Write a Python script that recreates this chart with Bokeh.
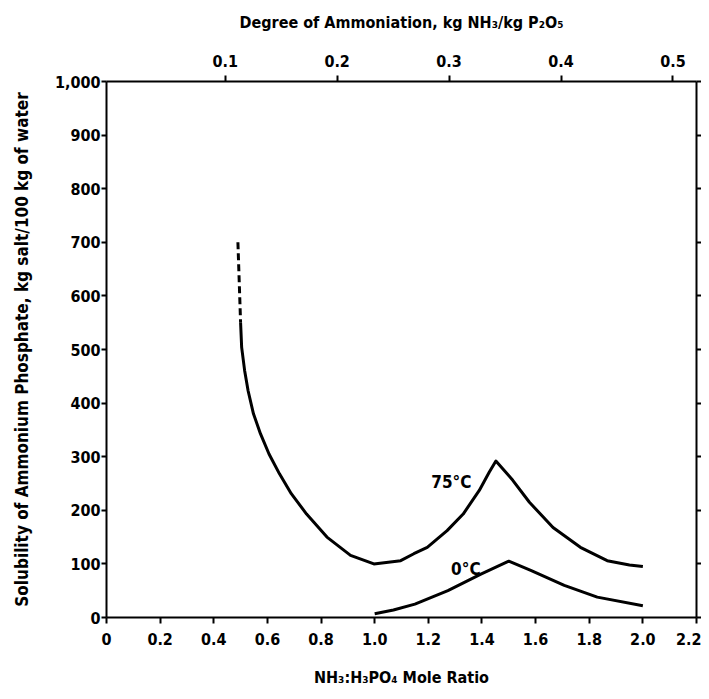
from bokeh.plotting import figure
from bokeh.models import Range1d, LinearAxis, FixedTicker
from bokeh.core.properties import value
from bokeh.embed import file_html
from bokeh.resources import INLINE

# ---- data ----
mole_ticks = [0, 0.2, 0.4, 0.6, 0.8, 1.0, 1.2, 1.4, 1.6, 1.8, 2.0, 2.2]
mole_labels = ["0", "0.2", "0.4", "0.6", "0.8", "1.0", "1.2", "1.4", "1.6", "1.8", "2.0", "2.2"]
sol_ticks = [0, 100, 200, 300, 400, 500, 600, 700, 800, 900, 1000]
sol_labels = ["0", "100", "200", "300", "400", "500", "600", "700", "800", "900", "1,000"]
deg_ticks = [0.1, 0.2, 0.3, 0.4, 0.5]
deg_labels = ["0.1", "0.2", "0.3", "0.4", "0.5"]
deg_start = -0.006  # degree of ammoniation at left edge of the frame
deg_end = 0.521     # degree of ammoniation at right edge of the frame

t75_dash_x = [0.49, 0.50]
t75_dash_y = [700, 550]
t75_x = [0.50, 0.504, 0.515, 0.528, 0.548, 0.574, 0.606, 0.645, 0.689, 0.746,
         0.822, 0.91, 0.997, 1.097, 1.146, 1.196, 1.27, 1.33, 1.39, 1.427,
         1.452, 1.515, 1.577, 1.665, 1.767, 1.867, 1.95, 2.0]
t75_y = [550, 504, 461, 423, 380, 343, 305, 268, 231, 193,
         150, 116, 100, 106, 119, 131, 162, 193, 237, 271,
         292, 256, 215, 168, 131, 106, 98, 95]
t0_x = [1.0, 1.07, 1.15, 1.273, 1.396, 1.50, 1.582, 1.707, 1.83, 2.0]
t0_y = [7, 14, 25, 50, 81, 105, 88, 60, 38, 22]
curve_labels = ["75\u00b0C", "0\u00b0C"]
label_x = [1.286, 1.34]
label_y = [252, 91]

FONT = "DejaVu Sans Condensed, Roboto"

p = figure(width=701, height=690, output_backend="svg", toolbar_location=None,
           x_range=Range1d(0, 2.2), y_range=Range1d(0, 1000),
           min_border_left=106, min_border_top=81, min_border_right=0,
           min_border_bottom=73)
p.xgrid.visible = False
p.ygrid.visible = False
p.outline_line_color = None
p.xaxis.visible = False
p.yaxis.visible = False

p.extra_x_ranges = {"deg": Range1d(deg_start, deg_end)}


def style(ax, ticks, labels):
    ax.ticker = FixedTicker(ticks=ticks)
    ax.major_label_overrides = {t: l for t, l in zip(ticks, labels)}
    ax.axis_line_width = 2
    ax.axis_line_color = "black"
    ax.major_tick_line_width = 2
    ax.major_tick_line_color = "black"
    ax.major_tick_out = 6
    ax.major_tick_in = 0
    ax.minor_tick_line_color = None
    ax.major_label_text_font = FONT
    ax.major_label_text_font_style = "bold"
    ax.major_label_text_font_size = "16px"
    ax.major_label_text_color = "black"
    ax.axis_label_text_font = FONT
    ax.axis_label_text_font_style = "bold"
    ax.axis_label_text_font_size = "16px"
    ax.axis_label_text_color = "black"


bottom = LinearAxis(axis_label="NH\u2083:H\u2083PO\u2084 Mole Ratio")
style(bottom, mole_ticks, mole_labels)
bottom.major_label_standoff = 9
bottom.axis_label_standoff = 20
p.add_layout(bottom, "below")

left = LinearAxis(axis_label="Solubility of Ammonium Phosphate, kg salt/100 kg of water")
style(left, sol_ticks, sol_labels)
left.major_tick_out = 5
left.major_label_standoff = 1
left.axis_label_standoff = 20
left.axis_label_text_font_size = "17px"
p.add_layout(left, "left")

top = LinearAxis(x_range_name="deg",
                 axis_label="Degree of Ammoniation, kg NH\u2083/kg P\u2082O\u2085")
style(top, deg_ticks, deg_labels)
top.major_label_standoff = 9
top.axis_label_standoff = 20
p.add_layout(top, "above")

right = LinearAxis()
style(right, sol_ticks, [""] * len(sol_ticks))
right.major_tick_out = 5
right.major_label_standoff = 0
p.add_layout(right, "right")

p.line(t75_dash_x, t75_dash_y, line_width=3, color="black", line_dash="7 4")
p.line(t75_x, t75_y, line_width=3, color="black", line_join="round")
p.line(t0_x, t0_y, line_width=3, color="black", line_join="round")
p.text(x=label_x, y=label_y, text=curve_labels, text_align="center",
       text_baseline="middle", text_font=value(FONT), text_font_style="bold",
       text_font_size="17px", text_color="black")

open("out.html", "w").write(file_html(p, INLINE))
